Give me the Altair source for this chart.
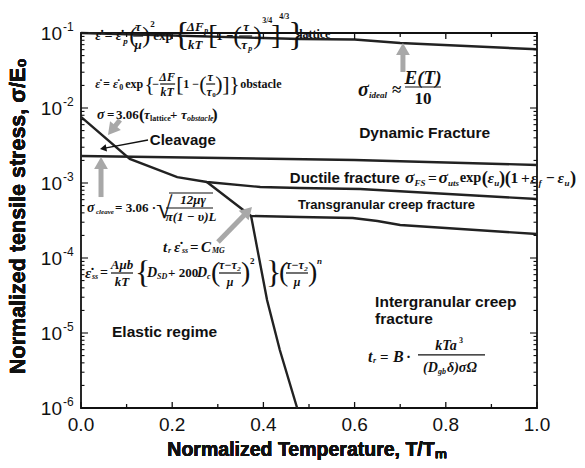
import math
import pandas as pd
import altair as alt

W, H = 456, 375
YMIN, YMAX = 1e-6, 1e-1
PXDEC = H / (math.log10(YMAX) - math.log10(YMIN))  # pixels per decade

# ---------------- boundary curves (T/Tm, sigma/E0) ----------------
ideal_x = [0.0, 0.2, 0.48, 0.6, 0.7, 1.0]
ideal_y = [0.1, 0.0926, 0.083, 0.082, 0.0735, 0.0607]

cleave_x = [0.0, 0.6, 1.0]
cleave_y = [2.29e-3, 2.03e-3, 1.74e-3]

shear_x = [0.0, 0.107, 0.211, 0.276, 0.393, 0.48, 0.612, 1.0]
shear_y = [7.6e-3, 2.09e-3, 1.20e-3, 1.03e-3, 8.85e-4, 8.57e-4, 8.32e-4, 6.12e-4]

tg_x = [0.276, 0.373, 0.48, 0.596, 0.65, 0.70, 1.0]
tg_y = [1.03e-3, 3.63e-4, 3.52e-4, 3.41e-4, 3.11e-4, 2.75e-4, 2.09e-4]

creep_x = [0.373, 0.408, 0.436, 0.474]
creep_y = [3.63e-4, 2.75e-5, 5.93e-6, 1.0e-6]

# ---------------- arrows (tail -> tip) ----------------
arrow_tail_x = [0.0855, 0.147, 0.0439, 0.3004, 0.706]
arrow_tail_y = [6.92e-3, 3.74e-3, 6.50e-4, 1.63e-4, 0.0302]
arrow_tip_x = [0.0592, 0.0417, 0.0439, 0.375, 0.706]
arrow_tip_y = [4.37e-3, 2.84e-3, 2.22e-3, 4.79e-4, 0.0736]
arrow_kind = ["gray", "black", "gray", "gray", "gray"]

# ---------------- region labels ----------------
lab_text = ["Cleavage", "Dynamic Fracture", "Ductile fracture",
            "Transgranular creep fracture", "Intergranular creep", "fracture",
            "Elastic regime"]
lab_x = [0.151, 0.610, 0.458, 0.476, 0.645, 0.645, 0.068]
lab_y = [3.74e-3, 4.64e-3, 1.17e-3, 5.09e-4, 2.59e-5, 1.54e-5, 1.03e-5]
lab_size = [15, 15.5, 15, 13, 15.5, 15.5, 15.5]

# ---------------- ticks / axis text ----------------
x_major = [0.0, 0.2, 0.4, 0.6, 0.8, 1.0]
x_labels = ["0.0", "0.2", "0.4", "0.6", "0.8", "1.0"]
x_minor = [0.1, 0.3, 0.5, 0.7, 0.9]
y_major = [1e-6, 1e-5, 1e-4, 1e-3, 1e-2, 1e-1]
y_exp = ["-6", "-5", "-4", "-3", "-2", "-1"]
y_minor = [k * 10.0 ** e for e in range(-6, -1) for k in range(2, 10)]
x_title = "Normalized Temperature, T/Tₘ"
y_title = "Normalized tensile stress, σ/E₀"

# ---------------- formulas: anchor (data) + typeset pieces ----------------
# piece: (text, dx px, dy px, size, group, align) ; bar: (dx1, dx2, dy)
formulas = [
    (0.031, 0.094, [
        ("ε̇ = ε̇", 0, 1, 14, "i", "left"), ("p", 28, 6, 9, "i", "left"),
        ("(", 34, 1, 24, "u", "left"), ("τ", 43, -8, 13, "i", "center"),
        ("μ", 43, 10, 13, "i", "center"), (")", 47, 1, 24, "u", "left"),
        ("2", 55, -11, 9, "u", "left"), ("exp", 58, 1, 13, "u", "left"),
        ("{", 78, 0, 34, "u", "left"), ("ΔF", 100, -8, 13, "i", "center"),
        ("p", 109, -4, 8, "i", "left"), ("kT", 100, 10, 13, "i", "center"),
        ("[", 113, 1, 28, "u", "left"), ("1 −", 121, 1, 13, "u", "left"),
        ("(", 138, 1, 26, "u", "left"), ("τ", 151, -8, 13, "i", "center"),
        ("τ", 149, 10, 13, "i", "center"), ("p", 153, 14, 8, "i", "left"),
        (")", 158, 1, 26, "u", "left"), ("3/4", 167, -14, 8, "u", "left"),
        ("]", 176, 1, 28, "u", "left"), ("4/3", 184, -18, 8, "u", "left"),
        ("}", 193, 0, 34, "u", "left"), ("lattice", 204, -1, 12, "u", "left"),
    ], [(38, 48, 1), (91, 111, 1), (144, 157, 1)]),
    (0.031, 0.02089, [
        ("ε̇ = ε̇", 0, 0, 12, "i", "left"), ("0", 24, 4, 8, "u", "left"),
        ("exp", 30, 0, 12, "u", "left"), ("{", 49, 0, 22, "u", "left"),
        ("−", 57, 0, 12, "u", "left"), ("ΔF", 72, -7, 12, "i", "center"),
        ("kT", 72, 8, 12, "i", "center"), ("[", 81, 0, 22, "u", "left"),
        ("1 −", 88, 0, 12, "u", "left"), ("(", 104, 0, 22, "u", "left"),
        ("τ", 115, -7, 12, "i", "center"), ("τ", 114, 8, 12, "i", "center"),
        ("0", 117, 11, 7, "u", "left"), (")", 120, 0, 22, "u", "left"),
        ("]", 127, 0, 22, "u", "left"), ("}", 134, 0, 22, "u", "left"),
        ("obstacle", 145, 0, 12, "u", "left"),
    ], [(65, 80, 0), (111, 120, 0)]),
    (0.0351, 8.07e-3, [
        ("σ", 0, 0, 14, "i", "left"), ("=", 10, 0, 13, "u", "left"),
        ("3.06", 19, 0, 13, "u", "left"), ("(", 42, 0, 17, "u", "left"),
        ("τ", 47, 0, 13, "i", "left"), ("lattice", 53, 4, 8, "u", "left"),
        ("+", 73, 0, 13, "u", "left"), ("τ", 84, 0, 13, "i", "left"),
        ("obstacle", 90, 4, 8, "i", "left"), (")", 115, 0, 17, "u", "left"),
    ], []),
    (0.6075, 0.01738, [
        ("σ", 0, 0, 20, "i", "left"), ("ideal", 11, 5, 9, "i", "left"),
        ("≈", 34, 0, 17, "u", "left"), ("E(T)", 65, -12, 19, "i", "center"),
        ("10", 65, 9, 17, "u", "center"),
    ], [(47, 83, -3)]),
    (0.01316, 4.64e-4, [
        ("σ", 0, 0, 14, "i", "left"), ("cleave", 9, 4, 7, "i", "left"),
        ("= 3.06 ·", 28, 0, 13, "u", "left"), ("√", 69, 1, 30, "u", "left"),
        ("12μγ", 106, -8, 13, "i", "center"), ("π(1 − υ)L", 104, 9, 13, "i", "center"),
    ], [(79, 126, 0), (82, 126, -15)]),
    (0.1798, 1.40e-4, [
        ("t", 0, 0, 15, "i", "left"), ("r", 5, 4, 8, "i", "left"),
        ("ε̇", 11, 0, 15, "i", "left"), ("ss", 19, 4, 8, "i", "left"),
        ("=", 27, 0, 15, "u", "left"), ("C", 38, 0, 15, "i", "left"),
        ("MG", 49, 4, 8, "i", "left"),
    ], []),
    (0.00877, 6.31e-5, [
        ("ε̇", 0, 0, 15, "i", "left"), ("ss", 7, 4, 8, "i", "left"),
        ("=", 15, 0, 14, "u", "left"), ("Aμb", 37, -8, 13, "i", "center"),
        ("kT", 37, 9, 13, "i", "center"), ("{", 50, 0, 32, "u", "left"),
        ("D", 62, 0, 14, "i", "left"), ("SD", 72, 4, 8, "i", "left"),
        ("+ 200", 83, 0, 13, "u", "left"), ("D", 112, 0, 14, "i", "left"),
        ("c", 122, 4, 8, "i", "left"), ("(", 126, 0, 28, "u", "left"),
        ("τ−τ₂", 145, -8, 12, "i", "center"), ("μ", 145, 9, 12, "i", "center"),
        (")", 156, 0, 28, "u", "left"), ("2", 165, -12, 9, "u", "left"),
        ("}", 181, 0, 32, "u", "left"), ("(", 194, 0, 28, "u", "left"),
        ("τ−τ₂", 212, -8, 12, "i", "center"), ("μ", 212, 9, 12, "i", "center"),
        (")", 223, 0, 28, "u", "left"), ("n", 232, -12, 9, "i", "left"),
    ], [(26, 48, 0), (134, 156, 0), (201, 223, 0)]),
    (0.7105, 1.166e-3, [
        ("σ", 0, 0, 17.5, "i", "left"), ("FS", 9.6, 5, 9, "i", "left"),
        ("=", 23, 0, 15.5, "u", "left"), ("σ", 33.6, 0, 17.5, "i", "left"),
        ("uts", 43, 5, 9, "i", "left"), ("exp", 54.7, 0, 14.5, "u", "left"),
        ("(", 76.8, 0, 18.5, "u", "left"), ("ε", 82.6, 0, 15.5, "i", "left"),
        ("u", 89.3, 5, 9, "i", "left"), (")", 94, 0, 18.5, "u", "left"),
        ("(", 99.8, 0, 18.5, "u", "left"), ("1", 105.6, 0, 15.5, "u", "left"),
        ("+", 116, 0, 15.5, "u", "left"), ("ε", 125.8, 0, 15.5, "i", "left"),
        ("f", 133.4, 5, 9, "i", "left"), ("−", 141, 0, 15.5, "u", "left"),
        ("ε", 152.6, 0, 15.5, "i", "left"), ("u", 159.4, 5, 9, "i", "left"),
        (")", 165, 0, 18.5, "u", "left"),
    ], []),
    (0.6294, 4.79e-6, [
        ("t", 0, 0, 16, "i", "left"), ("r", 5, 4, 8, "i", "left"),
        ("=", 12, 0, 15, "u", "left"), ("B", 25, 0, 16, "i", "left"),
        ("·", 38, 0, 15, "u", "left"), ("kTa", 78, -11, 14, "i", "center"),
        ("3", 91, -16, 8, "u", "left"), ("(D", 55, 11, 14, "i", "left"),
        ("gb", 70, 15, 8, "i", "left"), ("δ)σΩ", 79, 11, 14, "i", "left"),
    ], [(50, 117, -2)]),
]

BRACKETS = set("()[]{}√")


def place(ax, ay, dx, dy):
    return ax + dx / W, ay * 10 ** (-dy / PXDEC)


def to_px(x, y):
    return x * W, (math.log10(YMAX) - math.log10(y)) * PXDEC


def from_px(px, py):
    return px / W, 10 ** (math.log10(YMAX) - py / PXDEC)


rows = []
for name, xs_, ys_ in [("ideal", ideal_x, ideal_y), ("cleave", cleave_x, cleave_y),
                       ("shear", shear_x, shear_y), ("tg", tg_x, tg_y),
                       ("creep", creep_x, creep_y)]:
    for i, (a, b) in enumerate(zip(xs_, ys_)):
        rows.append({"series": name, "i": i, "x": a, "y": b})
lines_df = pd.DataFrame(rows)

txt_rows, bar_rows = [], []
for ax, ay, pieces, bars in formulas:
    for (t, dx, dy, s, g, al) in pieces:
        x, y = place(ax, ay, dx, dy)
        if t in BRACKETS and s >= 20:
            g = "b"  # tall delimiters drawn thin
        txt_rows.append({"label": t, "x": x, "y": y, "fs": s, "grp": g, "al": al})
    for (d1, d2, dy) in bars:
        x1, y1 = place(ax, ay, d1, dy)
        x2, _ = place(ax, ay, d2, dy)
        bar_rows.append({"x": x1, "x2": x2, "y": y1})
for t, x, y, s in zip(lab_text, lab_x, lab_y, lab_size):
    txt_rows.append({"label": t, "x": x, "y": y, "fs": s, "grp": "s", "al": "left"})
txt_df = pd.DataFrame(txt_rows)
bar_df = pd.DataFrame(bar_rows)

shaft_rows, head_rows = [], []
for tx, ty, hx, hy, kind in zip(arrow_tail_x, arrow_tail_y, arrow_tip_x, arrow_tip_y, arrow_kind):
    p0 = to_px(tx, ty)
    p1 = to_px(hx, hy)
    dx, dy = p1[0] - p0[0], p1[1] - p0[1]
    L = math.hypot(dx, dy)
    ux, uy = dx / L, dy / L
    size = 190 if kind == "gray" else 55
    h = 0.433 * math.sqrt(size)
    cx, cy = from_px(p1[0] - h * ux, p1[1] - h * uy)
    ex, ey = from_px(p1[0] - 1.5 * h * ux, p1[1] - 1.5 * h * uy)
    ang = math.degrees(math.atan2(ux, -uy)) % 360
    shaft_rows.append({"x": tx, "y": ty, "x2": ex, "y2": ey, "kind": kind})
    head_rows.append({"x": cx, "y": cy, "angle": ang, "kind": kind, "sz": size})
shaft_df = pd.DataFrame(shaft_rows)
head_df = pd.DataFrame(head_rows)

xs = alt.Scale(domain=[0, 1], nice=False, zero=False)
ys = alt.Scale(type="log", domain=[YMIN, YMAX], nice=False)
INK = "#111111"
GRAY = "#a8a8a8"


def X(f="x"):
    return alt.X(f"{f}:Q", scale=xs, axis=None)


def Y(f="y"):
    return alt.Y(f"{f}:Q", scale=ys, axis=None)


layers = [alt.Chart(lines_df).mark_line(color="#222222", strokeWidth=2.4).encode(
    x=X(), y=Y(), detail="series:N", order="i:Q")]

for kind, col, sw in [("gray", GRAY, 5), ("black", INK, 1.4)]:
    sd = shaft_df[shaft_df.kind == kind]
    hd = head_df[head_df.kind == kind]
    layers.append(alt.Chart(sd).mark_rule(color=col, strokeWidth=sw).encode(
        x=X(), y=Y(), x2="x2:Q", y2="y2:Q"))
    layers.append(alt.Chart(hd).mark_point(shape="triangle-up", filled=True, color=col,
                                           opacity=1, strokeWidth=0,
                                           size=float(hd.sz.iloc[0])).encode(
        x=X(), y=Y(), angle=alt.Angle("angle:Q", scale=None)))

layers.append(alt.Chart(bar_df).mark_rule(color=INK, strokeWidth=1.2).encode(
    x=X(), x2="x2:Q", y=Y()))

fonts = {"i": dict(font="Liberation Serif", fontStyle="italic", fontWeight="bold"),
         "u": dict(font="Liberation Serif", fontWeight="bold"),
         "b": dict(font="Liberation Serif", fontWeight="normal"),
         "s": dict(font="Liberation Sans", fontWeight="bold")}
for (g, al, fs), d in txt_df.groupby(["grp", "al", "fs"]):
    layers.append(alt.Chart(d[["label", "x", "y"]]).mark_text(
        align=al, baseline="middle", color=INK, fontSize=float(fs), **fonts[g]).encode(
        x=X(), y=Y(), text="label:N"))

# inward ticks
xmaj = pd.DataFrame({"v": x_major, "lab": x_labels})
xmin_ = pd.DataFrame({"v": x_minor})
ymaj = pd.DataFrame({"v": y_major, "e": y_exp})
ymin_ = pd.DataFrame({"v": y_minor})
for df, ln in [(xmaj, 6), (xmin_, 4)]:
    layers.append(alt.Chart(df).mark_rule(color=INK, strokeWidth=1.3).encode(
        x=X("v"), y=alt.value(H), y2=alt.value(H - ln)))
    layers.append(alt.Chart(df).mark_rule(color=INK, strokeWidth=1.3).encode(
        x=X("v"), y=alt.value(0), y2=alt.value(ln)))
for df, ln in [(ymaj, 7), (ymin_, 3.5)]:
    layers.append(alt.Chart(df).mark_rule(color=INK, strokeWidth=1.1).encode(
        y=Y("v"), x=alt.value(0), x2=alt.value(ln)))
    layers.append(alt.Chart(df).mark_rule(color=INK, strokeWidth=1.1).encode(
        y=Y("v"), x=alt.value(W), x2=alt.value(W - ln)))

# tick labels
layers.append(alt.Chart(xmaj).mark_text(align="center", baseline="middle",
                                        font="Liberation Sans", fontSize=19, color=INK).encode(
    x=X("v"), y=alt.value(H + 17), text="lab:N"))
layers.append(alt.Chart(ymaj).mark_text(align="right", baseline="middle", dy=1,
                                        font="Liberation Sans", fontSize=19, color=INK).encode(
    y=Y("v"), x=alt.value(-19), text=alt.value("10")))
layers.append(alt.Chart(ymaj).mark_text(align="left", baseline="middle", dy=-6,
                                        font="Liberation Sans", fontSize=12, color=INK).encode(
    y=Y("v"), x=alt.value(-18), text="e:N"))

# axis titles
layers.append(alt.Chart(xmaj).mark_text(align="center", baseline="middle",
                                        font="Liberation Sans", fontSize=19.5,
                                        fontWeight="bold", color=INK).encode(
    x=alt.value(226), y=alt.value(H + 42), text=alt.value(x_title)))
layers.append(alt.Chart(xmaj).mark_text(align="center", baseline="middle", angle=270,
                                        font="Liberation Sans", fontSize=21.5,
                                        fontWeight="bold", color=INK).encode(
    x=alt.value(-62), y=alt.value(183), text=alt.value(y_title)))

chart = alt.layer(*layers).properties(
    width=W, height=H,
    autosize=alt.AutoSizeParams(type="none"),
    padding={"left": 73, "top": 25, "right": 40, "bottom": 52},
).configure_view(stroke=INK, strokeWidth=1.8)

chart.save("out.html", embed_options={"renderer": "svg", "actions": False})
